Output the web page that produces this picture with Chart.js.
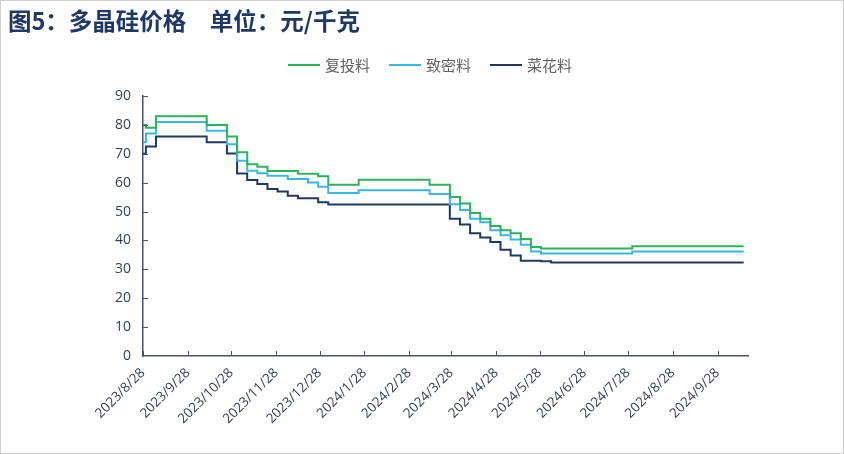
<!DOCTYPE html>
<html>
<head>
<meta charset="utf-8">
<script src="https://cdn.jsdelivr.net/npm/chart.js@4.4.1/dist/chart.umd.min.js"></script>
<style>
    html, body { margin: 0; padding: 0; background: #fff; }
    #wrap { position: relative; width: 844px; height: 454px; overflow: hidden; }
    #frame { position: absolute; left: 0; top: 0; width: 844px; height: 454px; box-sizing: border-box; border: 1px solid #cfcfcf; pointer-events: none; }
    #title { position: absolute; left: 8px; top: 3px; font-family: "Noto Sans CJK SC"; font-weight: bold; font-size: 23.5px; color: #1F3864; white-space: pre; }
    #legend { position: absolute; left: 288px; top: 54px; display: flex; font-family: "Noto Sans CJK SC"; font-size: 15px; color: #606060; }
    .item { display: flex; align-items: center; width: 101px; }
    .swatch { width: 32px; height: 2px; margin-right: 5px; }
    canvas { position: absolute; left: 0; top: 0; }
</style>
</head>
<body>
<div id="wrap">
    <canvas id="priceChart" width="844" height="454"></canvas>
    <div id="title">图5：多晶硅价格　单位：元/千克</div>
    <div id="legend"></div>
    <div id="frame"></div>
</div>
<script>
// Date di rilevazione (settimanali, mercoledì)
const dates = [
    '2023/8/28', '2023/8/30', '2023/9/6', '2023/9/13', '2023/9/20', '2023/9/27', '2023/10/4',
    '2023/10/11', '2023/10/18', '2023/10/25', '2023/11/1', '2023/11/8', '2023/11/15', '2023/11/22',
    '2023/11/29', '2023/12/6', '2023/12/13', '2023/12/20', '2023/12/27', '2024/1/3', '2024/1/10',
    '2024/1/17', '2024/1/24', '2024/1/31', '2024/2/7', '2024/2/14', '2024/2/21', '2024/2/28',
    '2024/3/6', '2024/3/13', '2024/3/20', '2024/3/27', '2024/4/3', '2024/4/10', '2024/4/17',
    '2024/4/24', '2024/5/1', '2024/5/8', '2024/5/15', '2024/5/22', '2024/5/29', '2024/6/5',
    '2024/6/12', '2024/6/19', '2024/6/26', '2024/7/3', '2024/7/10', '2024/7/17', '2024/7/24',
    '2024/7/31', '2024/8/7', '2024/8/14', '2024/8/21', '2024/8/28', '2024/9/4', '2024/9/11',
    '2024/9/18', '2024/9/25', '2024/10/2', '2024/10/9', '2024/10/16'
];

// 复投料
const fuTou = [
    80, 79, 83, 83, 83, 83, 83,
    80, 80, 76, 70.5, 66.4, 65.5, 64,
    64, 64, 63.1, 63.1, 62.2, 59.3, 59.3,
    59.3, 61, 61, 61, 61, 61, 61,
    61, 59.3, 59.3, 55, 52.8, 49.5, 47.5,
    45, 43.5, 42.5, 40.5, 37.7, 37.2, 37.2,
    37.2, 37.2, 37.2, 37.2, 37.2, 37.2, 37.2,
    38, 38, 38, 38, 38, 38, 38,
    38, 38, 38, 38, 38
];

// 致密料
const zhiMi = [
    74, 77, 81, 81, 81, 81, 81,
    78, 78, 73.3, 67.6, 64.1, 63.3, 62.4,
    62.4, 61.3, 61.3, 60.1, 58.6, 56.4, 56.4,
    56.4, 57.4, 57.4, 57.4, 57.4, 57.4, 57.4,
    57.4, 56.1, 56.1, 52.5, 50.5, 47.5, 46.3,
    43.5, 41.8, 40.3, 38.5, 36.2, 35.5, 35.5,
    35.5, 35.5, 35.5, 35.5, 35.5, 35.5, 35.5,
    36.2, 36.2, 36.2, 36.2, 36.2, 36.2, 36.2,
    36.2, 36.2, 36.2, 36.2, 36.2
];

// 菜花料
const caiHua = [
    70, 72.5, 76, 76, 76, 76, 76,
    74, 74, 70.1, 63.2, 60.9, 59.5, 57.8,
    56.9, 55.5, 54.6, 54.6, 53.2, 52.4, 52.4,
    52.4, 52.4, 52.4, 52.4, 52.4, 52.4, 52.4,
    52.4, 52.4, 52.4, 47.5, 45.5, 42.5, 41,
    39.5, 36.8, 34.8, 33, 33, 32.8, 32.4,
    32.4, 32.4, 32.4, 32.4, 32.4, 32.4, 32.4,
    32.4, 32.4, 32.4, 32.4, 32.4, 32.4, 32.4,
    32.4, 32.4, 32.4, 32.4, 32.4
];

// Etichette dell'asse X (mensili)
const tickDates = [
    '2023/8/28', '2023/9/28', '2023/10/28', '2023/11/28', '2023/12/28', '2024/1/28', '2024/2/28',
    '2024/3/28', '2024/4/28', '2024/5/28', '2024/6/28', '2024/7/28', '2024/8/28', '2024/9/28'
];

const seriesNames = ['复投料', '致密料', '菜花料'];
const seriesColors = ['#2DB25A', '#38B6E8', '#1F3864'];
const axisColor = '#44546A';
const tickColor = '#333F55';

// giorni trascorsi dal 2023/8/28
function dayOf(s) {
    const [y, m, d] = s.split('/').map(Number);
    return Math.round((Date.UTC(y, m - 1, d) - Date.UTC(2023, 7, 28)) / 86400000);
}

const tickLabels = {};
tickDates.forEach(d => { tickLabels[dayOf(d)] = d; });

function toPoints(values) {
    return values.map((v, i) => ({ x: dayOf(dates[i]), y: v }));
}

// Legenda in HTML
const legend = document.getElementById('legend');
seriesNames.forEach((name, i) => {
    const item = document.createElement('div');
    item.className = 'item';
    item.innerHTML = '<span class="swatch" style="background:' + seriesColors[i] + '"></span><span>' + name + '</span>';
    legend.appendChild(item);
});

// Tacche interne sugli assi
const innerTicks = {
    id: 'innerTicks',
    afterDraw(chart) {
        const { ctx, chartArea: a, scales: { x, y } } = chart;
        ctx.save();
        ctx.strokeStyle = axisColor;
        ctx.lineWidth = 1;
        y.ticks.forEach(t => {
            if (t.value === 0) return;
            const py = Math.round(y.getPixelForValue(t.value)) + 0.5;
            ctx.beginPath();
            ctx.moveTo(a.left, py);
            ctx.lineTo(a.left + 5, py);
            ctx.stroke();
        });
        x.ticks.forEach(t => {
            const px = Math.round(x.getPixelForValue(t.value)) + 0.5;
            ctx.beginPath();
            ctx.moveTo(px, a.bottom);
            ctx.lineTo(px, a.bottom - 5);
            ctx.stroke();
        });
        ctx.restore();
    }
};

Chart.defaults.font.family = '"Open Sans", "Noto Sans", sans-serif';

const ctx = document.getElementById('priceChart').getContext('2d');
new Chart(ctx, {
    type: 'line',
    data: {
        datasets: [fuTou, zhiMi, caiHua].map((vals, i) => ({
            label: seriesNames[i],
            data: toPoints(vals),
            borderColor: seriesColors[i],
            backgroundColor: seriesColors[i],
            borderWidth: 2,
            pointRadius: 0,
            stepped: true,
            fill: false
        }))
    },
    options: {
        responsive: false,
        animation: false,
        layout: { padding: { top: 96, left: 0, right: 96, bottom: 0 } },
        plugins: {
            legend: { display: false },
            tooltip: { enabled: false }
        },
        scales: {
            x: {
                type: 'linear',
                min: 0,
                max: 418,
                afterBuildTicks: s => { s.ticks = tickDates.map(d => ({ value: dayOf(d) })); },
                afterFit: s => { s.height = 98; },
                grid: { display: false, drawTicks: false },
                border: { color: axisColor, width: 1.5 },
                ticks: {
                    autoSkip: false,
                    minRotation: 45,
                    maxRotation: 45,
                    padding: 9,
                    color: tickColor,
                    font: { size: 13.5 },
                    callback: v => tickLabels[v] || ''
                }
            },
            y: {
                min: 0,
                max: 90,
                afterFit: s => { s.width = 143; },
                grid: { display: false, drawTicks: false },
                border: { color: axisColor, width: 1.5 },
                ticks: {
                    stepSize: 10,
                    padding: 12,
                    color: tickColor,
                    font: { size: 14 }
                }
            }
        }
    },
    plugins: [innerTicks]
});
</script>
</body>
</html>
